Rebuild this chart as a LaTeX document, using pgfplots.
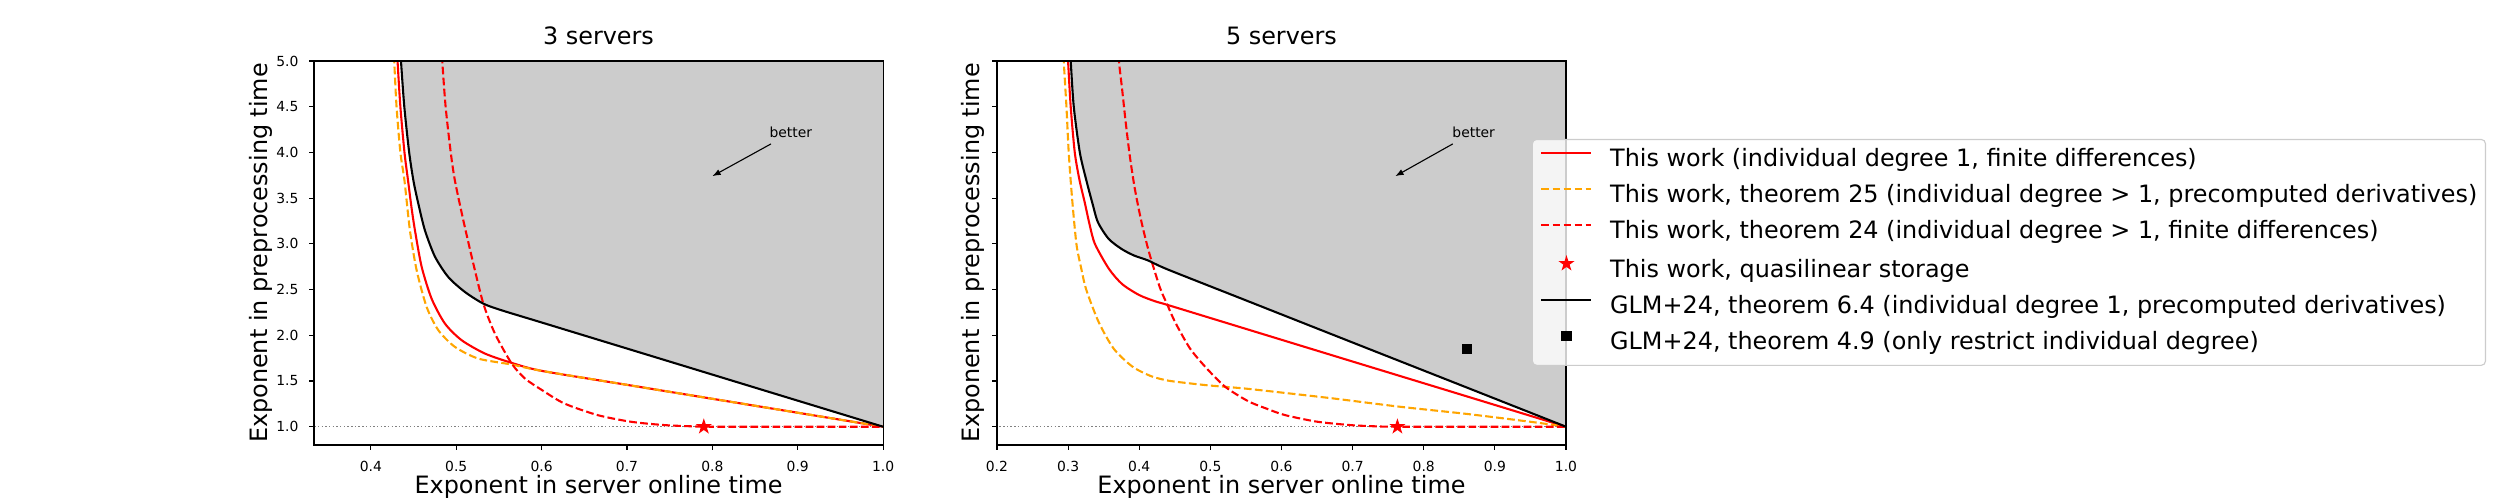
\documentclass[border=0pt]{standalone}
\usepackage{fontspec}
\setmainfont{DejaVu Sans}
\usepackage{pgfplots}
\pgfplotsset{compat=1.18}
\usetikzlibrary{arrows.meta}
\definecolor{fillgray}{HTML}{CCCCCC}
\definecolor{myorange}{HTML}{FFA500}
\definecolor{dotgray}{HTML}{808080}
\definecolor{legendedge}{HTML}{CCCCCC}

\pgfdeclareplotmark{fstar}{%
  \pgfpathmoveto{\pgfpointpolar{90}{1\pgfplotmarksize}}%
  \pgfpathlineto{\pgfpointpolar{126}{0.382\pgfplotmarksize}}%
  \pgfpathlineto{\pgfpointpolar{162}{1\pgfplotmarksize}}%
  \pgfpathlineto{\pgfpointpolar{198}{0.382\pgfplotmarksize}}%
  \pgfpathlineto{\pgfpointpolar{234}{1\pgfplotmarksize}}%
  \pgfpathlineto{\pgfpointpolar{270}{0.382\pgfplotmarksize}}%
  \pgfpathlineto{\pgfpointpolar{306}{1\pgfplotmarksize}}%
  \pgfpathlineto{\pgfpointpolar{342}{0.382\pgfplotmarksize}}%
  \pgfpathlineto{\pgfpointpolar{18}{1\pgfplotmarksize}}%
  \pgfpathlineto{\pgfpointpolar{54}{0.382\pgfplotmarksize}}%
  \pgfpathclose
  \pgfusepathqfillstroke
}

\newcommand{\bigfont}{\fontsize{17.2}{20.6}\selectfont}

\pgfplotsset{
  myaxis/.style={
    scale only axis, width=409.7pt, height=276.5pt,
    anchor=south west,
    ymin=0.8, ymax=5, xmax=1,
    axis on top,
    axis line style={line width=0.8pt},
    tick align=outside, major tick length=3.5pt,
    every tick/.style={black, line width=0.8pt},
    xtick pos=left, ytick pos=left,
    ytick={1.0,1.5,2.0,2.5,3.0,3.5,4.0,4.5,5.0},
    /pgf/number format/assume math mode=true,
    /pgf/number format/fixed,
    /pgf/number format/fixed zerofill,
    /pgf/number format/precision=1,
    ticklabel style={font=\fontsize{10}{12}\selectfont},
    xticklabel style={anchor=north, inner sep=0pt, yshift=-8pt},
    yticklabel style={anchor=east, inner sep=0pt, xshift=-7.5pt},
    title style={font=\bigfont, at={(0.5,1)}, anchor=base, yshift=6pt},
    xlabel style={font=\bigfont, at={(0.5,0)}, anchor=base, yshift=-35pt},
    ylabel style={font=\bigfont, anchor=base},
    xlabel={Exponent in server online time},
    ylabel={Exponent in preprocessing time},
    legend image code/.code={\draw[#1] (0pt,5.6pt) -- (36pt,5.6pt);},
  },
  redsolid/.style={red, line width=1.5pt, mark=none, smooth, tension=0.45},
  orangedash/.style={myorange, line width=1.5pt, mark=none, dash pattern=on 5.55pt off 2.4pt, smooth, tension=0.45},
  reddash/.style={red, line width=1.5pt, mark=none, dash pattern=on 5.55pt off 2.4pt, smooth, tension=0.45},
  blacksolid/.style={black, line width=1.5pt, mark=none, smooth, tension=0.45},
  dotline/.style={dotgray, line width=1pt, dash pattern=on 1pt off 1.65pt, forget plot},
  starmark/.style={only marks, mark=fstar, mark size=4.8pt, red, mark options={fill=red, draw=red, line width=0.8pt, solid},
    legend image code/.code={\draw[##1, fill opacity=1] plot coordinates {(18pt,5.6pt)};}},
  sqmark/.style={only marks, mark=square*, mark size=3.3pt, black, mark options={fill=black, solid},
    legend image code/.code={\draw[##1, fill opacity=1] plot coordinates {(18pt,5.6pt)};}},
}

\begin{document}
\begin{tikzpicture}
\path[use as bounding box] (0,0) rectangle (1800pt,360pt);

% ---------------- 3 servers ----------------
\begin{axis}[myaxis,
  at={(226.1pt,39.6pt)},
  xmin=0.33333,
  xtick={0.4,0.5,0.6,0.7,0.8,0.9,1.0},
  title={3 servers},
  ylabel style={at={(-0.0813,0.5)}},
]
\addplot[fill=fillgray, draw=none, forget plot] coordinates {
 (0.4334,5.3) (0.4352,5.0) (0.4391,4.5) (0.4448,4.0) (0.4500,3.68) (0.4560,3.42)
 (0.4633,3.146) (0.4750,2.86) (0.4907,2.636) (0.5102,2.473) (0.5317,2.346)
 (0.5532,2.273) (0.6000,2.14) (1.0,1.0) (1.0,5.5) (0.4334,5.5)} -- cycle;
\addplot[dotline] coordinates {(0.2,1.0) (1.1,1.0)};
\addplot[redsolid] coordinates {
 (0.4300,5.3) (0.4312,5.0) (0.4345,4.5) (0.4393,4.0) (0.4435,3.691) (0.4475,3.4)
 (0.4516,3.146) (0.4594,2.75) (0.4711,2.40) (0.4867,2.128) (0.5063,1.946)
 (0.5336,1.80) (0.5649,1.698) (0.6000,1.611) (0.7,1.458) (0.8,1.3055) (0.9,1.153) (1.0,1.0)};
\addplot[orangedash] coordinates {
 (0.4262,5.3) (0.4273,5.0) (0.4300,4.5) (0.4345,4.0) (0.4393,3.691) (0.4457,3.146)
 (0.4536,2.709) (0.4653,2.309) (0.4790,2.055) (0.4984,1.873) (0.5258,1.745)
 (0.5649,1.68) (0.6000,1.611) (0.7,1.458) (0.8,1.3055) (0.9,1.153) (1.0,1.0)};
\addplot[reddash] coordinates {
 (0.4825,5.3) (0.4836,5.0) (0.4875,4.5) (0.4935,4.0) (0.4984,3.691) (0.5083,3.255)
 (0.5200,2.782) (0.5317,2.346) (0.5453,2.018) (0.5649,1.691) (0.5805,1.527)
 (0.6000,1.403) (0.6265,1.2545) (0.6656,1.127) (0.7046,1.0545) (0.7436,1.018)
 (0.7800,1.003) (0.8000,1.0) (0.9,1.0) (1.0,1.0)};
\addplot[starmark] coordinates {(0.790,1.0)};
\addplot[blacksolid] coordinates {
 (0.4334,5.3) (0.4352,5.0) (0.4391,4.5) (0.4448,4.0) (0.4500,3.68) (0.4560,3.42)
 (0.4633,3.146) (0.4750,2.86) (0.4907,2.636) (0.5102,2.473) (0.5317,2.346)
 (0.5532,2.273) (0.6000,2.14) (0.7,1.855) (0.8,1.57) (0.9,1.285) (1.0,1.0)};
\node[anchor=base west, inner sep=0pt, font=\fontsize{10}{12}\selectfont] at (rel axis cs:0.8,0.8) {better};
\draw[-{Latex[length=6pt,width=4.5pt]}, line width=0.8pt] (rel axis cs:0.803,0.784) -- (rel axis cs:0.7,0.7);
\end{axis}

% ---------------- 5 servers ----------------
\begin{axis}[myaxis,
  at={(717.8pt,39.6pt)},
  xmin=0.2,
  xtick={0.2,0.3,0.4,0.5,0.6,0.7,0.8,0.9,1.0},
  yticklabels={},
  title={5 servers},
  ylabel style={at={(-0.0305,0.5)}},
  legend cell align=left,
  legend style={
    at={(0.940,0.797)}, anchor=north west,
    draw=legendedge, line width=0.8pt, rounded corners=3pt,
    fill=white, fill opacity=0.8, text opacity=1, draw opacity=1,
    font=\bigfont,
    inner xsep=5.8pt, inner ysep=6.9pt,
    row sep=8.9pt,
    nodes={inner sep=0pt, text height=12.8pt, text depth=4.2pt},
    /tikz/every odd column/.append style={column sep=12.7pt},
  },
]
\addplot[fill=fillgray, draw=none, forget plot] coordinates {
 (0.3015,5.3) (0.3037,5.0) (0.3080,4.5) (0.3165,4.0) (0.3255,3.7) (0.3340,3.45)
 (0.3420,3.236) (0.3570,3.055) (0.3750,2.945) (0.3926,2.873) (0.4126,2.818)
 (0.4400,2.72) (1.0,1.0) (1.0,5.5) (0.3015,5.5)} -- cycle;
\addplot[dotline] coordinates {(0.1,1.0) (1.1,1.0)};
\addplot[redsolid] coordinates {
 (0.2985,5.3) (0.3000,5.0) (0.3037,4.5) (0.3094,4.0) (0.3160,3.7) (0.3235,3.45)
 (0.3300,3.22) (0.3377,3.0) (0.3574,2.727) (0.3760,2.56) (0.4000,2.44)
 (0.4230,2.37) (0.4407,2.33) (0.55,2.07) (0.7,1.713) (0.85,1.357) (1.0,1.0)};
\addlegendentry{This work (individual degree 1, finite differences)}
\addplot[orangedash] coordinates {
 (0.2925,5.3) (0.2939,5.0) (0.2977,4.5) (0.3009,4.0) (0.3056,3.5) (0.3117,3.0)
 (0.3180,2.75) (0.3255,2.5) (0.3430,2.145) (0.3640,1.855) (0.3900,1.66)
 (0.4160,1.555) (0.4400,1.505) (0.4700,1.475) (0.5000,1.45) (0.5482,1.418)
 (0.6100,1.365) (0.6730,1.309) (0.7670,1.218) (0.8605,1.14) (0.9540,1.05) (1.0,1.0)};
\addlegendentry{This work, theorem 25 (individual degree > 1, precomputed derivatives)}
\addplot[reddash] coordinates {
 (0.3695,5.3) (0.3715,5.0) (0.3760,4.69) (0.3810,4.33) (0.3868,3.96) (0.3939,3.6)
 (0.4033,3.236) (0.4141,2.90) (0.4292,2.52) (0.4395,2.335) (0.4504,2.145)
 (0.4715,1.855) (0.4951,1.636) (0.5210,1.436) (0.5530,1.28) (0.5800,1.195)
 (0.6050,1.127) (0.6500,1.055) (0.6966,1.018) (0.7300,1.005) (0.7600,1.0) (0.88,1.0) (1.0,1.0)};
\addlegendentry{This work, theorem 24 (individual degree > 1, finite differences)}
\addplot[starmark] coordinates {(0.763,1.0)};
\addlegendentry{This work, quasilinear storage}
\addplot[blacksolid] coordinates {
 (0.3015,5.3) (0.3037,5.0) (0.3080,4.5) (0.3165,4.0) (0.3255,3.7) (0.3340,3.45)
 (0.3420,3.236) (0.3570,3.055) (0.3750,2.945) (0.3926,2.873) (0.4126,2.818)
 (0.4400,2.72) (0.55,2.382) (0.7,1.921) (0.85,1.461) (1.0,1.0)};
\addlegendentry{GLM+24, theorem 6.4 (individual degree 1, precomputed derivatives)}
\addplot[sqmark] coordinates {(0.861,1.855)};
\addlegendentry{GLM+24, theorem 4.9 (only restrict individual degree)}
\node[anchor=base west, inner sep=0pt, font=\fontsize{10}{12}\selectfont] at (rel axis cs:0.8,0.8) {better};
\draw[-{Latex[length=6pt,width=4.5pt]}, line width=0.8pt] (rel axis cs:0.801,0.784) -- (rel axis cs:0.7,0.7);
\end{axis}
\end{tikzpicture}
\end{document}
